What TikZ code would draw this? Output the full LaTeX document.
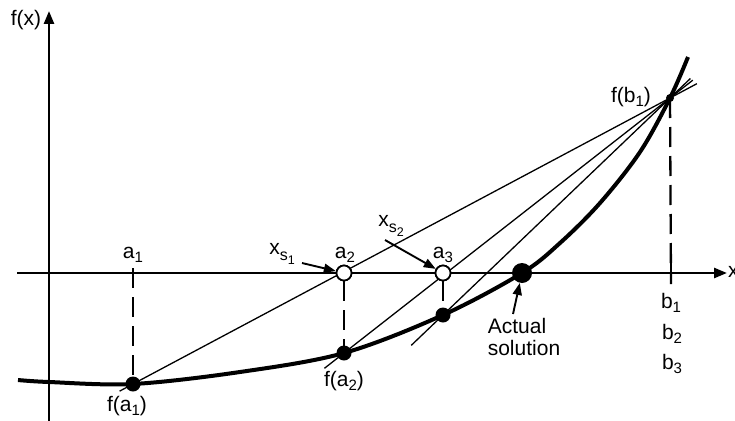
\documentclass[tikz,border=0pt]{standalone}
\usepackage{fontspec}
\setmainfont{Liberation Sans}
\usetikzlibrary{arrows.meta,calc}
\newcommand{\lsub}[1]{\raisebox{-0.2em}{\fontsize{15}{15}\selectfont #1}}
\newcommand{\xsub}[1]{x\raisebox{-0.3em}{\fontsize{16}{16}\selectfont s\raisebox{-0.22em}{\fontsize{12.5}{12.5}\selectfont #1}}}
\begin{document}
\begin{tikzpicture}[x=1pt,y=-1pt,
  axis/.style={line width=2.5pt,-{Triangle[length=13pt,width=10pt]}},
  secant/.style={line width=1.3pt},
  curvestyle/.style={line width=4pt},
  dashv/.style={line width=2.3pt,dash pattern=on 20pt off 9pt},
  fdot/.style={circle,fill=black,inner sep=0pt,minimum size=15pt},
  bigdot/.style={circle,fill=black,inner sep=0pt,minimum size=20pt},
  smalldot/.style={circle,fill=black,inner sep=0pt,minimum size=8pt},
  odot/.style={circle,draw=black,fill=white,line width=1.7pt,inner sep=0pt,minimum size=15pt},
  lbl/.style={inner sep=0pt,font=\fontsize{21}{22}\selectfont},
  arr/.style={line width=1.9pt,-{Triangle[length=12pt,width=9pt]}}]
\useasboundingbox (0,0) rectangle (735,420);
% axes
\coordinate (xl) at (17,273);
\coordinate (xr) at (727,273);
\coordinate (yb) at (49,421);
\coordinate (yt) at (49,11);
\draw[axis] (xl) -- (xr);
\draw[axis] (yb) -- (yt);
\node[lbl,anchor=west] (xlab) at (728,272) {x};
\node[lbl] (fxlab) at (26,20) {f(x)};
% points
\coordinate (fa1) at (133,384);
\coordinate (fa2) at (344,353);
\coordinate (fa3) at (443,315);
\coordinate (sol) at (522,273);
\coordinate (fb1) at (670,98);
% secants
\draw[secant] ($(fa1)!-0.025!(fb1)$) -- ($(fa1)!1.05!(fb1)$);
\draw[secant] ($(fa2)!-0.06!(fb1)$) -- ($(fa2)!1.07!(fb1)$);
\draw[secant] ($(fa3)!-0.14!(fb1)$) -- ($(fa3)!1.09!(fb1)$);
% dashed verticals
\coordinate (a1top) at (133,268);
\coordinate (b1bot) at (671,284);
\coordinate (b1tick) at (671,262);
\draw[dashv] (a1top) -- (fa1);
\draw[dashv] (fb1) -- (b1bot);
\draw[line width=2.3pt] (b1tick) -- (b1bot);
\node[odot] (a2) at (344,273) {};
\node[odot] (a3) at (443,273) {};
\draw[dashv] (a2.south) -- (fa2);
\draw[dashv] (a3.south) -- (fa3);
% curve
\draw[curvestyle] plot[smooth,tension=0.55] coordinates {(18,380) (49,382) (fa1) (240,372) (fa2) (fa3) (sol) (560,243) (600,203) (640,152) (fb1) (688,57)};
% dots
\node[fdot] (p1) at (fa1) {};
\node[fdot] (p2) at (fa2) {};
\node[fdot] (p3) at (fa3) {};
\node[bigdot] (ps) at (sol) {};
\node[smalldot] (pb) at (fb1) {};
\node[odot] at (a2) {};
\node[odot] at (a3) {};
% labels
\node[lbl] (la1) at (133,255) {a\lsub{1}};
\node[lbl] (la2) at (345,255) {a\lsub{2}};
\node[lbl] (la3) at (443,255) {a\lsub{3}};
\node[lbl] (lfa1) at (127,406) {f(a\lsub{1})};
\node[lbl] (lfa2) at (344,381) {f(a\lsub{2})};
\node[lbl] (lfb1) at (631,97) {f(b\lsub{1})};
\node[lbl] (lb1) at (671,303) {b\lsub{1}};
\node[lbl] (lb2) at (672,334) {b\lsub{2}};
\node[lbl] (lb3) at (672,364) {b\lsub{3}};
\node[lbl] (lxs1) at (282,254) {\xsub{1}};
\node[lbl] (lxs2) at (391,226) {\xsub{2}};
\node[lbl,align=left] (lact) at (524,337) {Actual\\solution};
% annotation arrows
\coordinate (t1) at (302,263);
\coordinate (t2) at (385,240);
\coordinate (t3) at (513,314);
\draw[arr] (t1) -- (a2);
\draw[arr] (t2) -- (a3);
\draw[arr] (t3) -- (ps);
\end{tikzpicture}
\end{document}
